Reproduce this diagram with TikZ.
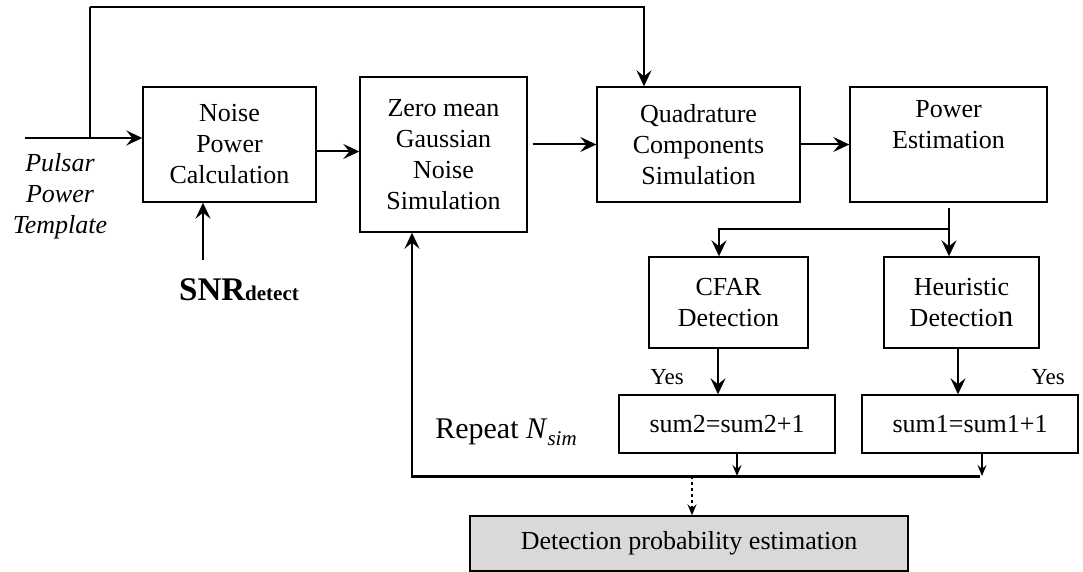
\documentclass[tikz,border=0pt]{standalone}
\usepackage{fontspec}
\setmainfont{Liberation Serif}
\usetikzlibrary{arrows.meta,calc}
\begin{document}
\begin{tikzpicture}[x=1pt,y=-1pt,
  every node/.style={font=\fontsize{26}{31}\selectfont},
  blk/.style={draw,line width=1.4pt,align=center,inner sep=0pt},
  conn/.style={line width=2pt,-{Stealth[length=16pt,width=15pt,inset=6pt]}},
  small/.style={line width=1.5pt,-{Stealth[length=11pt,width=9pt,inset=4pt]}},
  lbl/.style={inner sep=0pt}]
\useasboundingbox (0,0) rectangle (1083,572);
% blocks
\node[blk,minimum width=173,minimum height=115] (noise) at (229.5,144.5) {Noise\\Power\\Calculation};
\node[blk,minimum width=167,minimum height=155] (zero) at (443.5,154.5) {Zero mean\\Gaussian\\Noise\\Simulation};
\node[blk,minimum width=203,minimum height=115] (quad) at (698.5,144.5) {Quadrature\\Components\\Simulation};
\node[blk,minimum width=197,minimum height=115] (power) at (948.5,144.5) {Power\\Estimation\\\strut};
\node[blk,minimum width=159,minimum height=91] (cfar) at (728.5,302.5) {CFAR\\Detection};
\node[blk,minimum width=155,minimum height=91] (heur) at (961.5,302.5) {Heuristic\\Detectio{\fontsize{31}{31}\selectfont n}};
\node[blk,minimum width=216,minimum height=58] (sum2) at (727,424) {sum2=sum2+1};
\node[blk,minimum width=216,minimum height=58] (sum1) at (970,424) {sum1=sum1+1};
\node[blk,fill=black!15,minimum width=438,minimum height=55] (det) at (689,543.5) {Detection probability estimation};
% labels
\node[lbl,align=center,font=\fontsize{26}{31}\selectfont\itshape] (pulsar) at (60,196) {Pulsar\\Power\\Template};
\node[lbl,font=\bfseries\fontsize{33}{33}\selectfont] (snr) at (239,290) {SNR{\fontsize{21}{21}\selectfont detect}};
\node[lbl,font=\fontsize{23}{23}\selectfont] (yes2) at (667,377) {Yes};
\node[lbl,font=\fontsize{23}{23}\selectfont] (yes1) at (1048,377) {Yes};
\node[lbl,font=\fontsize{30}{30}\selectfont] (rep) at (506,432) {Repeat \textit{N}\raisebox{-0.22em}{\fontsize{21}{21}\selectfont\itshape sim}};
% coordinates
\coordinate (in) at (25,138);
\coordinate (tap) at (90,138);
\coordinate (topc) at (90,7);
\coordinate (qin) at ([xshift=-54.5]quad.north);
\coordinate (snrtop) at (203,260);
\coordinate (pd) at (949,208);
\coordinate (br) at (949,229);
\coordinate (busL) at (412,476);
\coordinate (busR) at (980,476);
% connectors
\draw[conn] (in) -- (in -| noise.west);
\draw[line width=2pt] (tap) -- (topc);
\draw[conn] (topc) -| (qin);
\draw[conn] ([yshift=-7]noise.east) -- ([yshift=-7]noise.east -| zero.west);
\draw[conn] ([xshift=5]zero.east |- quad.west) -- (quad.west);
\draw[conn] (quad.east) -- (power.west);
\draw[conn] (snrtop) -- (snrtop |- noise.south);
\draw[conn] (pd) -- (pd |- heur.north);
\draw[conn] (br) -| ([xshift=-9.5]cfar.north);
\draw[conn] ([xshift=-10.5]cfar.south) -- ([xshift=-10.5]cfar.south |- sum2.north);
\draw[conn] ([xshift=-3.5]heur.south) -- ([xshift=-3.5]heur.south |- sum1.north);
\draw[small] ([xshift=10]sum2.south) -- ([xshift=10]sum2.south |- busL);
\draw[small] ([xshift=12]sum1.south) -- ([xshift=12]sum1.south |- busL);
\draw[line width=3pt] ([xshift=-1]busL) -- (busR);
\draw[conn] ([yshift=1.5]busL) -- (busL |- zero.south);
\draw[small,dashed] ([xshift=3]det.north |- busL) -- ([xshift=3]det.north);
\end{tikzpicture}
\end{document}
